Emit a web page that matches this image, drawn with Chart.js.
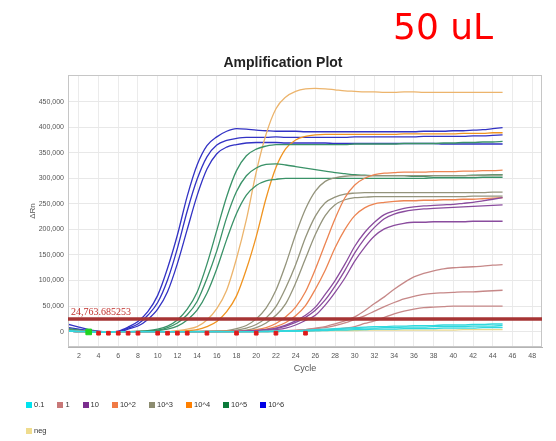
<!DOCTYPE html>
<html>
<head>
<meta charset="utf-8">
<script src="https://cdn.jsdelivr.net/npm/chart.js@4.4.1/dist/chart.umd.min.js"></script>
<style>
  html, body { margin: 0; padding: 0; background: #fff; }
  #wrap { position: relative; width: 556px; height: 441px; }
  #legend { position: absolute; left: 26px; top: 401px; width: 300px; display: flex; flex-wrap: wrap; row-gap: 19px;
            font: 7.5px "Liberation Sans", Arial, sans-serif; color: #333; }
  .item { display: flex; align-items: center; margin-right: 13px; height: 7px; }
  .box { width: 6px; height: 6px; margin-right: 2px; }
</style>
</head>
<body>
<div id="wrap">
  <canvas id="plot" width="556" height="441"></canvas>
  <div id="legend"></div>
</div>
<script>
// cycles 1..45, dRn values in thousands
const cycles = [1,2,3,4,5,6,7,8,9,10,11,12,13,14,15,16,17,18,19,20,21,22,23,24,25,26,27,28,29,30,31,32,33,34,35,36,37,38,39,40,41,42,43,44,45];

const groups = ['0.1', '1', '10', '10^2', '10^3', '10^4', '10^5', '10^6', 'neg'];

const xTicks = [2,4,6,8,10,12,14,16,18,20,22,24,26,28,30,32,34,36,38,40,42,44,46,48];
const yTicks = [0,50000,100000,150000,200000,250000,300000,350000,400000,450000];

const threshold = 24763.685253;

// baseline start markers (cycle)
const redMarks = [4,5,6,7,8,10,11,12,13,15,18,20,22,25];
const greenMarks = [3];

// 10^6
const blue1 = [14,9,4,1,-1,1,9,20,39,71,124,189,265,326,364,381,392,397,396,394,393,392,392,392,391,391,391,391,391,391,391,391,391,391,391,391,392,392,392,393,393,394,395,397,399];
const blue2 = [8,5,2,0,-1,0,7,15,32,57,101,163,236,298,342,365,374,378,380,380,380,381,380,380,380,380,380,380,380,381,381,381,381,381,381,381,382,382,382,382,382,383,383,384,385];
const blue3 = [5,3,1,0,-1,-1,5,11,24,44,78,133,200,266,318,348,361,366,369,370,370,370,369,369,369,369,369,368,368,368,368,368,368,368,368,368,368,368,367,367,367,367,367,367,367];
// 10^5
const green1 = [6,3,1,0,-1,-1,0,1,2,5,11,23,44,77,132,198,264,315,344,357,363,366,366,366,366,366,366,366,366,367,367,367,367,367,368,368,368,368,369,369,370,370,371,371,372];
const green2 = [4,2,0,-1,-1,-1,0,0,1,3,8,17,33,59,104,158,223,274,305,320,327,328,326,323,320,317,314,311,309,307,306,305,305,305,305,304,304,305,305,305,305,306,306,307,307];
const green3 = [3,1,0,-1,-1,0,0,0,1,2,5,11,23,42,75,123,180,231,267,286,295,298,300,300,300,300,300,300,300,300,300,300,300,300,300,300,300,301,301,301,301,301,302,302,302];
// 10^4
const orange1 = [4,2,1,0,-1,-1,-1,0,0,0,0,2,5,10,23,45,81,143,219,312,386,436,459,470,475,476,475,473,471,470,469,469,468,468,469,469,468,468,468,468,468,468,468,468,468];
const orange2 = [3,1,0,-1,-1,-1,0,0,0,0,0,1,2,4,10,20,39,70,122,186,261,321,358,375,382,385,386,386,386,386,386,386,386,386,387,387,387,387,387,387,388,388,388,389,389];
// 10^3
const olive1 = [3,1,0,-1,-1,0,0,0,0,0,0,0,0,1,1,1,2,6,12,25,46,81,132,190,240,275,294,301,304,305,305,305,305,305,305,305,305,305,305,305,305,305,306,306,306];
const olive2 = [2,1,0,-1,-1,0,0,0,0,0,0,0,0,0,1,1,1,3,7,14,27,49,86,131,184,226,252,263,269,271,272,272,272,272,272,272,272,272,272,272,272,272,272,273,273];
const olive3 = [2,1,0,-1,-1,0,0,0,0,0,0,0,0,0,0,1,1,1,3,8,17,32,55,95,143,190,227,248,258,262,263,264,264,264,264,264,264,264,264,264,264,265,265,265,265];
// 10^2
const salmon1 = [2,1,0,-1,-1,0,0,0,0,0,0,0,0,0,0,0,1,1,2,4,8,16,29,48,78,122,172,221,262,287,300,307,310,311,312,312,312,313,313,313,314,314,315,315,316];
const salmon2 = [2,0,0,-1,-1,0,0,0,0,0,0,0,0,0,0,0,0,1,1,2,5,10,18,31,51,83,120,164,200,227,242,250,253,255,256,256,257,257,258,258,259,259,260,261,262];
// 10
const purple1 = [1,0,0,-1,-1,0,0,0,0,0,0,0,0,0,0,0,0,1,1,2,4,7,13,21,32,48,73,100,132,167,194,214,229,236,241,244,246,247,248,249,251,253,256,259,262];
const purple2 = [1,0,0,-1,-1,0,0,0,0,0,0,0,0,0,0,0,0,0,0,1,2,4,7,13,22,32,52,77,105,138,165,187,201,208,212,214,214,215,215,215,215,216,216,216,216];
const purple3 = [1,0,0,-1,-1,0,0,0,0,0,0,0,0,0,0,0,0,0,1,2,4,6,11,18,28,42,62,89,120,154,182,204,221,230,235,238,240,241,242,243,244,245,246,247,248];
// 1
const rosy1 = [1,0,0,-1,-1,0,0,0,0,0,0,0,0,0,0,0,0,0,0,0,1,1,2,3,4,7,10,15,21,29,41,55,68,83,96,107,114,119,123,125,126,127,128,130,131];
const rosy2 = [1,0,0,-1,-1,0,0,0,0,0,0,0,0,0,0,0,0,0,0,0,0,1,1,2,4,6,8,12,17,24,31,40,49,57,64,69,73,75,76,77,78,78,79,80,81];
const rosy3 = [1,0,0,-1,-1,0,0,0,0,0,0,0,0,0,0,0,0,0,0,0,0,0,1,1,1,2,3,5,7,10,16,21,28,35,40,44,47,48,49,50,50,50,50,50,50];
// 0.1
const cyan1 = [2,1,0,-1,-1,0,0,0,0,0,0,0,0,0,0,0,0,0,0,0,1,1,2,2,3,4,5,6,7,8,9,10,10,11,11,12,12,12,13,13,13,14,14,15,15];
const cyan2 = [1,0,0,-1,-1,0,0,0,0,0,0,0,0,0,0,0,0,0,0,0,0,1,1,1,2,2,3,4,5,6,7,7,8,8,9,9,9,10,10,10,10,11,11,11,12];
const cyan3 = [1,0,0,-1,-1,0,0,0,0,0,0,0,0,0,0,0,0,0,0,0,0,0,1,1,1,2,2,3,3,4,4,5,5,5,6,6,6,6,7,7,7,7,8,8,8];
// neg
const neg1 = [1,0,0,-1,-1,0,0,0,0,0,0,0,0,0,0,0,0,0,0,0,0,1,1,1,1,2,2,2,2,2,3,3,3,3,3,3,3,3,3,3,4,4,4,4,4];

// which group each curve belongs to (index into groups)
const curves = [
  [0, cyan1], [0, cyan2], [0, cyan3], [8, neg1],
  [1, rosy1], [1, rosy2], [1, rosy3],
  [2, purple1], [2, purple2], [2, purple3],
  [3, salmon1], [3, salmon2],
  [4, olive1], [4, olive2], [4, olive3],
  [6, green1], [6, green2], [6, green3],
  [5, orange1], [5, orange2],
  [7, blue1], [7, blue2], [7, blue3]
];

const legendColors = ['#00e3ee', '#c87878', '#7b2d8e', '#f07a45', '#8c8c70', '#ff8000', '#0b7a3a', '#0000e6', '#efdc8e'];
const lineColors = ['#30d8de', '#c68888', '#8a4c9e', '#ec8452', '#94947c', '#f09420', '#3a9268', '#3232c4', '#e8d890'];

const X_MIN = 0.9, X_MAX = 49;

const datasets = [];

datasets.push({
  data: redMarks.map(c => ({ x: c, y: -3000 })),
  showLine: false, pointStyle: 'rect', pointRadius: 2.6,
  pointBackgroundColor: '#e01a1a', pointBorderColor: '#e01a1a', order: 0
});
datasets.push({
  data: greenMarks.map(c => ({ x: c, y: -500 })),
  showLine: false, pointStyle: 'rect', pointRadius: 4,
  pointBackgroundColor: '#1fd41f', pointBorderColor: '#1fd41f', order: 0
});
datasets.push({
  data: [{ x: X_MIN, y: threshold }, { x: X_MAX, y: threshold }],
  borderColor: '#a63434', borderWidth: 3.5, pointRadius: 0, order: 1
});

curves.forEach(([g, vals], i) => {
  let col = lineColors[g];
  if (vals === orange1) col = '#ecb46c';
  datasets.push({
    data: vals.map((v, k) => ({ x: cycles[k], y: v * 1000 })),
    borderColor: col, borderWidth: 1.3, pointRadius: 0,
    cubicInterpolationMode: 'monotone', order: 2
  });
});

const extras = {
  id: 'extras',
  beforeDatasetsDraw(chart) {
    const { ctx, chartArea: a } = chart;
    ctx.save();
    ctx.strokeStyle = '#c6c6c6';
    ctx.lineWidth = 1;
    ctx.strokeRect(a.left + 0.5, a.top + 0.5, a.width - 1, a.height - 1);
    ctx.restore();
  },
  afterDraw(chart) {
    const { ctx, chartArea: a, scales } = chart;
    ctx.save();
    ctx.fillStyle = '#c0302c';
    ctx.font = '10px "Liberation Serif", serif';
    ctx.textBaseline = 'bottom';
    const label = threshold.toLocaleString('en-US', { minimumFractionDigits: 6 });
    ctx.fillText(label, a.left + 3, scales.y.getPixelForValue(threshold) - 2);
    ctx.fillStyle = '#ff0000';
    ctx.font = '36px "DejaVu Sans", sans-serif';
    ctx.textBaseline = 'alphabetic';
    ctx.fillText('50 uL', 393, 39);
    ctx.restore();
  }
};

new Chart(document.getElementById('plot').getContext('2d'), {
  type: 'line',
  data: { datasets: datasets },
  plugins: [extras],
  options: {
    responsive: false,
    animation: false,
    events: [],
    layout: { padding: { left: 24, right: 14, top: 0, bottom: 63 } },
    plugins: {
      legend: { display: false },
      tooltip: { enabled: false },
      title: {
        display: true, text: 'Amplification Plot', color: '#222',
        font: { family: '"Liberation Sans", Arial', size: 14, weight: 'bold' },
        padding: { top: 55, bottom: 3.2 }
      }
    },
    scales: {
      x: {
        type: 'linear', min: X_MIN, max: X_MAX,
        afterBuildTicks: axis => { axis.ticks = xTicks.map(v => ({ value: v })); },
        afterFit: axis => { axis.height = 31; },
        grid: { color: '#ebebeb', drawTicks: false },
        border: { color: '#b4b4b4' },
        ticks: { font: { family: '"Liberation Sans", Arial', size: 7 }, color: '#555', padding: 5, maxRotation: 0, autoSkip: false },
        title: { display: true, text: 'Cycle', color: '#555', font: { family: '"Liberation Sans", Arial', size: 9 }, padding: { top: 4, bottom: 4 } }
      },
      y: {
        min: -30000, max: 502000,
        afterBuildTicks: axis => { axis.ticks = yTicks.map(v => ({ value: v })); },
        afterFit: axis => { axis.width = 44; },
        grid: { color: '#e8e8e8', drawTicks: false },
        border: { color: '#b4b4b4' },
        ticks: {
          font: { family: '"Liberation Sans", Arial', size: 7 }, color: '#555', padding: 4,
          callback: v => v.toLocaleString('en-US')
        },
        title: { display: true, text: 'ΔRn', color: '#555', font: { family: '"Liberation Sans", Arial', size: 8 }, padding: { top: 4, bottom: 4 } }
      }
    }
  }
});

// legend, one entry per dilution
const legendEl = document.getElementById('legend');
groups.forEach((name, i) => {
  const item = document.createElement('div');
  item.className = 'item';
  const box = document.createElement('span');
  box.className = 'box';
  box.style.background = legendColors[i];
  const txt = document.createElement('span');
  txt.textContent = name;
  item.appendChild(box);
  item.appendChild(txt);
  legendEl.appendChild(item);
});
</script>
</body>
</html>
